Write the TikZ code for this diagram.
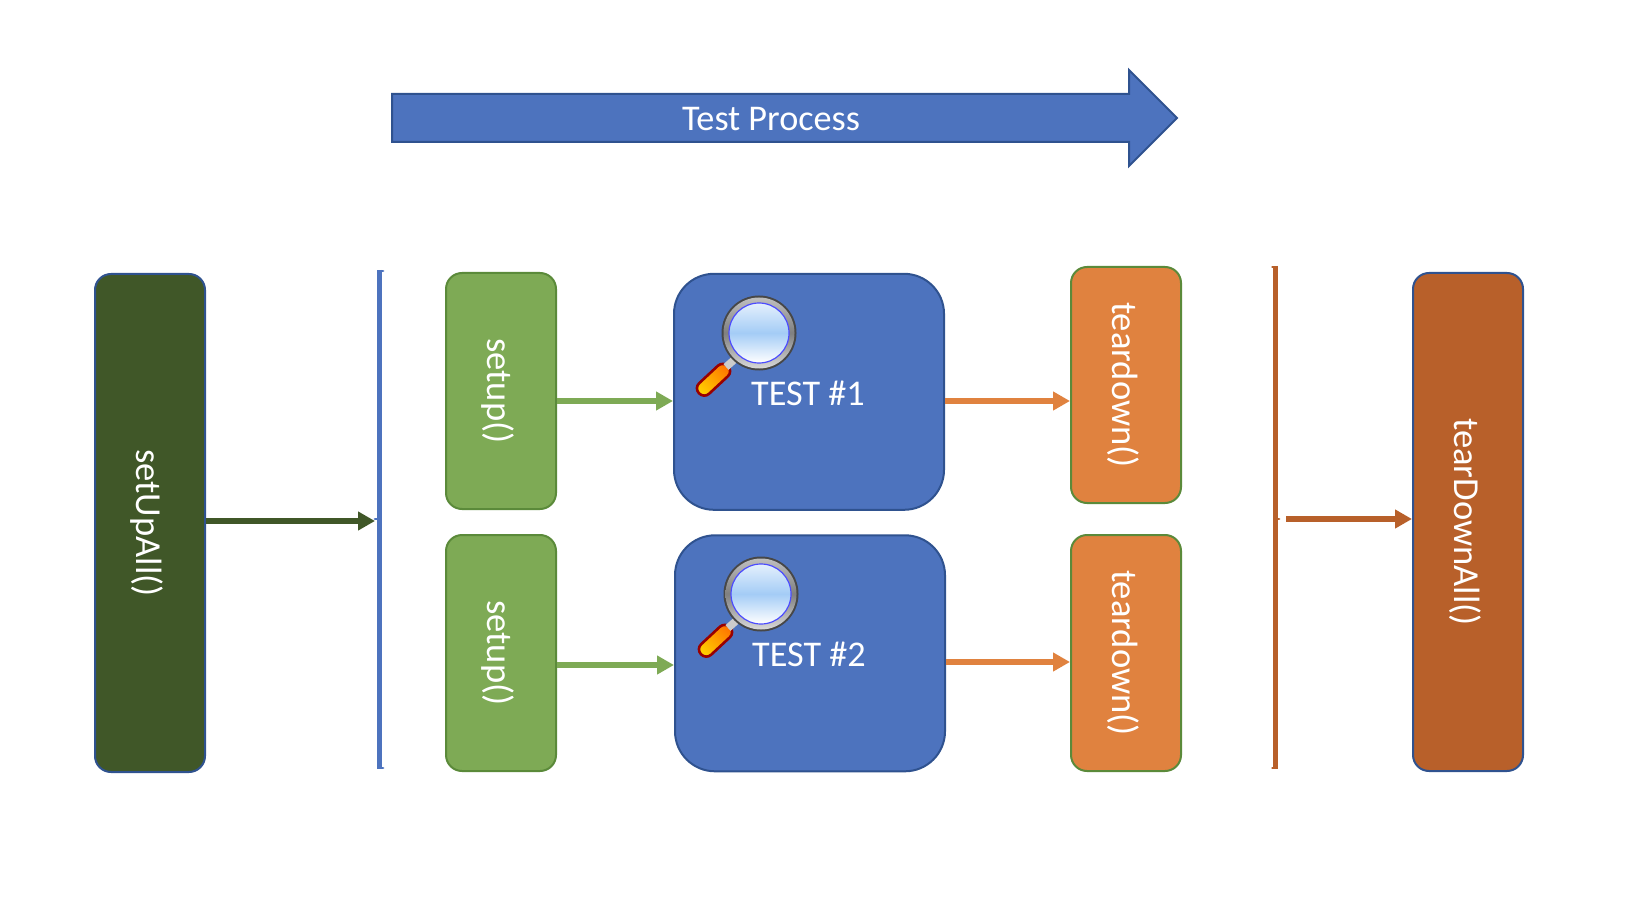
\documentclass[tikz,border=0pt]{standalone}
\usepackage{fontspec}
\setmainfont{Carlito}
\usetikzlibrary{arrows.meta,calc}
\definecolor{mainblue}{HTML}{4D73BE}
\definecolor{edgeblue}{HTML}{2F528F}
\definecolor{leaf}{HTML}{7EAA55}
\definecolor{edgegreen}{HTML}{5B8A3A}
\definecolor{pumpkin}{HTML}{E0823F}
\definecolor{forest}{HTML}{405728}
\definecolor{rust}{HTML}{B8602A}
\definecolor{lensblue}{HTML}{A4CCF6}
\tikzset{
  x=0.5pt,y=-0.5pt,
  vbox/.style={rectangle,rotate=-90,text=white,inner sep=0pt,font=\fontsize{18.3}{20}\selectfont,text height=16pt,text depth=2pt,line width=1pt},
  testbox/.style={rectangle,draw=edgeblue,fill=mainblue,rounded corners=20pt,line width=1pt,inner sep=0pt,minimum width=135pt,minimum height=118pt},
  conn/.style={line width=3.1pt,-{Triangle[length=8.5pt,width=9pt]}},
  label/.style={text=white,inner sep=0pt,font=\fontsize{18.1}{20}\selectfont},
  pics/magnifier/.style={code={
    \draw[draw=red!60!black,line width=1.3pt,rounded corners=3.5pt,top color=orange!90!red,bottom color=yellow!65!orange,shading angle=-45]
      (-26,38.5) -- (-36,28) -- (-65,55) -- (-55,65.5) -- cycle;
    \draw[line width=3.8pt,draw=black!20] (-24,26) -- (-33,34);
    \fill[black!72] (0,0) circle (37.5);
    \shade[top color=black!25,bottom color=black!15,middle color=black!50] (0,0) circle (35.5);
    \shade[top color=white!70!lensblue,bottom color=white,middle color=lensblue] (0,0) circle (30);
    \draw[line width=0.6pt,blue!70!white] (0,0) circle (30);
  }}
}
\begin{document}
\begin{tikzpicture}
\useasboundingbox (0,0) rectangle (1652,914);
% process arrow
\filldraw[fill=mainblue,draw=edgeblue,line width=1pt,line join=miter]
  (392,94) -- (1129,94) -- (1129,70) -- (1177,118) -- (1129,166) -- (1129,142) -- (392,142) -- cycle;
\node[label] (proc) at (771,119) {Test Process};
% boxes
\node[vbox,draw=edgeblue,fill=forest,rounded corners=8pt,minimum width=249pt,minimum height=55pt] (suall) at (150,523) {setUpAll()};
\node[vbox,draw=edgegreen,fill=leaf,rounded corners=8pt,minimum width=118pt,minimum height=55pt] (setA) at (501,391) {setup()};
\node[vbox,draw=edgegreen,fill=leaf,rounded corners=8pt,minimum width=118pt,minimum height=55pt] (setB) at (501,653) {setup()};
\node[testbox] (testA) at (809,391.8) {};
\node[testbox] (testB) at (810,653.3) {};
\node[vbox,draw=edgegreen,fill=pumpkin,rounded corners=8pt,minimum width=118pt,minimum height=55pt] (tdA) at (1126,385) {teardown()};
\node[vbox,draw=edgegreen,fill=pumpkin,rounded corners=8pt,minimum width=118pt,minimum height=55pt] (tdB) at (1126,653) {teardown()};
\node[vbox,draw=edgeblue,fill=rust,rounded corners=8pt,minimum width=249pt,minimum height=55pt] (tdall) at (1468,522) {tearDownAll()};
% brackets
\coordinate (brA) at (375,521);
\coordinate (brB) at (1286,519);
\draw[mainblue,line width=2.4pt] (379.5,270) -- (379.5,769);
\draw[mainblue,line width=1.4pt,line cap=round] (379.5,271) -- (383,271) (379.5,768) -- (383,768) (375,519) -- (379,519);
\draw[rust,line width=2.4pt] (1275.5,266) -- (1275.5,769);
\draw[rust,line width=1.4pt,line cap=round] (1272.5,267) -- (1275.5,267) (1272.5,768) -- (1275.5,768) (1275.5,519) -- (1279,519);
% connector levels
\coordinate (rowS) at (0,521);
\coordinate (rowSA) at (0,401);
\coordinate (rowSB) at (0,665);
\coordinate (rowTA) at (0,401);
\coordinate (rowTB) at (0,662);
\coordinate (rowE) at (0,519);
% connectors
\draw[conn,forest] (suall.north |- rowS) -- (brA);
\draw[conn,leaf] (setA.north |- rowSA) -- (testA.west |- rowSA);
\draw[conn,leaf] (setB.north |- rowSB) -- (testB.west |- rowSB);
\draw[conn,pumpkin] (testA.east |- rowTA) -- (tdA.south |- rowTA);
\draw[conn,pumpkin] (testB.east |- rowTB) -- (tdB.south |- rowTB);
\draw[conn,rust] (brB) -- (tdall.south |- rowE);
% magnifiers
\pic at (759,333) {magnifier};
\pic at (761,594) {magnifier};
\node[label] (lblA) at (808,393) {TEST \#1};
\node[label] (lblB) at (809,654) {TEST \#2};
\end{tikzpicture}
\end{document}
